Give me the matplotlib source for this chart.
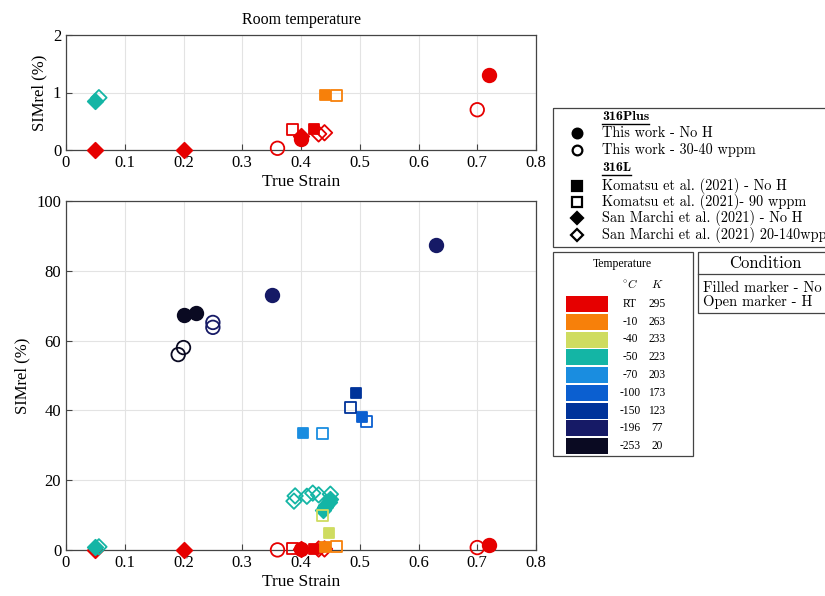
import matplotlib
matplotlib.use('Agg')
import matplotlib.pyplot as plt
from matplotlib.patches import Rectangle

plt.rcParams['font.family'] = ['Liberation Serif', 'DejaVu Serif']
plt.rcParams['mathtext.fontset'] = 'cm'

# temperature classes
temp_c = ['RT', '-10', '-40', '-50', '-70', '-100', '-150', '-196', '-253']
temp_k = ['295', '263', '233', '223', '203', '173', '123', '77', '20']
temp_colors = ['#e60000', '#f7800a', '#cfdc60', '#14b5a5', '#1a8de0',
               '#0b5fd0', '#00339a', '#161a66', '#0a0a22']
col = dict(zip(temp_c, temp_colors))

# 316Plus, this work
plus_noh_x = [0.40, 0.72, 0.20, 0.221, 0.35, 0.63]
plus_noh_y = [0.20, 1.30, 67.3, 68.0, 73.1, 87.5]
plus_noh_t = ['RT', 'RT', '-253', '-253', '-196', '-196']

plus_h_x = [0.36, 0.70, 0.191, 0.20, 0.25, 0.25]
plus_h_y = [0.03, 0.70, 56.0, 58.0, 65.2, 63.8]
plus_h_t = ['RT', 'RT', '-253', '-253', '-196', '-196']

# 316L, Komatsu et al. (2021)
kom_noh_x = [0.422, 0.44, 0.447, 0.403, 0.503, 0.494]
kom_noh_y = [0.36, 0.95, 5.0, 33.5, 38.2, 45.0]
kom_noh_t = ['RT', '-10', '-40', '-70', '-100', '-150']

kom_h_x = [0.386, 0.46, 0.437, 0.437, 0.511, 0.485]
kom_h_y = [0.36, 0.95, 9.8, 33.5, 36.9, 40.9]
kom_h_t = ['RT', '-10', '-40', '-70', '-100', '-150']

# 316L, San Marchi et al. (2021)
sm_noh_x = [0.05, 0.20, 0.40, 0.05, 0.437, 0.44, 0.443, 0.447, 0.45]
sm_noh_y = [0.0, 0.0, 0.25, 0.85, 11.5, 12.3, 13.0, 13.8, 14.5]
sm_noh_t = ['RT', 'RT', 'RT', '-50', '-50', '-50', '-50', '-50', '-50']

sm_h_x = [0.43, 0.44, 0.056, 0.388, 0.39, 0.41, 0.42, 0.43, 0.45]
sm_h_y = [0.28, 0.30, 0.91, 14.0, 15.5, 15.4, 16.3, 15.8, 16.0]
sm_h_t = ['RT', 'RT', '-50', '-50', '-50', '-50', '-50', '-50', '-50']

series = [
    (sm_noh_x, sm_noh_y, sm_noh_t, 'D', True, 62),
    (sm_h_x, sm_h_y, sm_h_t, 'D', False, 62),
    (kom_noh_x, kom_noh_y, kom_noh_t, 's', True, 62),
    (kom_h_x, kom_h_y, kom_h_t, 's', False, 62),
    (plus_noh_x, plus_noh_y, plus_noh_t, 'o', True, 95),
    (plus_h_x, plus_h_y, plus_h_t, 'o', False, 95),
]


def draw(ax, ymax):
    for x, y, t, m, filled, s in series:
        for xi, yi, ti in zip(x, y, t):
            if yi > ymax:
                continue
            c = col[ti]
            ax.scatter(xi, yi, s=s, marker=m, facecolors=c if filled else 'none',
                       edgecolors=c, linewidths=1.3, clip_on=False, zorder=3)


def style(ax):
    ax.set_xlim(0, 0.8)
    ax.set_xticks([0, 0.1, 0.2, 0.3, 0.4, 0.5, 0.6, 0.7, 0.8])
    ax.set_xticklabels(['0', '0.1', '0.2', '0.3', '0.4', '0.5', '0.6', '0.7', '0.8'])
    ax.grid(True, color='#e3e3e3', linewidth=0.8)
    ax.set_axisbelow(True)
    ax.tick_params(direction='in', labelsize=12, color='#444444', length=4)
    for sp in ax.spines.values():
        sp.set_color('#444444')
        sp.set_linewidth(0.9)
    ax.set_xlabel('True Strain', fontsize=12.5, labelpad=2)
    ax.set_ylabel('SIMrel (%)', fontsize=12, labelpad=4)


fig = plt.figure(figsize=(8.25, 5.96), dpi=100)

ax1 = fig.add_axes([66/825, 1-150/596, 470/825, 115/596])
draw(ax1, 2)
style(ax1)
ax1.set_ylim(0, 2)
ax1.set_yticks([0, 1, 2])
ax1.set_title('Room temperature', fontsize=11.5, pad=8)

ax2 = fig.add_axes([66/825, 1-550/596, 470/825, 349/596])
draw(ax2, 100)
style(ax2)
ax2.set_ylim(0, 100)
ax2.set_yticks([0, 20, 40, 60, 80, 100])

# overlay in pixel units for the legend boxes
ov = fig.add_axes([0, 0, 1, 1])
ov.set_xlim(0, 825)
ov.set_ylim(596, 0)
ov.axis('off')

lf = ['cmr10', 'DejaVu Serif']
ov.add_patch(Rectangle((553, 108), 320, 139, fill=False, ec='#444444', lw=0.9))
rows = [
    (117, None, '316Plus'),
    (133, ('o', True), 'This work - No H'),
    (150, ('o', False), 'This work - 30-40 wppm'),
    (168, None, '316L'),
    (186, ('s', True), 'Komatsu et al. (2021) - No H'),
    (202, ('s', False), 'Komatsu et al. (2021)- 90 wppm'),
    (218, ('D', True), 'San Marchi et al. (2021) - No H'),
    (235, ('D', False), 'San Marchi et al. (2021) 20-140wppm'),
]
headers = []
for yy, mk, txt in rows:
    if mk is None:
        t = ov.text(602, yy, txt, fontsize=10, family=['cmb10', 'DejaVu Serif'],
                    va='center', ha='left')
        headers.append((t, yy))
    else:
        m, filled = mk
        ov.plot(577, yy, marker=m, ms=7 if m != 'D' else 6.5, color='black',
                mfc='black' if filled else 'white', mew=1.6, ls='none')
        ov.text(602, yy, txt, fontsize=10.3, family=lf, va='center', ha='left')

fig.canvas.draw()
r = fig.canvas.get_renderer()
for t, yy in headers:
    bb = t.get_window_extent(r)
    ov.plot([602, 602 + bb.width], [yy + 6.5, yy + 6.5], color='black', lw=1.0)

# temperature key
ov.add_patch(Rectangle((553, 252), 140, 204, fill=False, ec='#444444', lw=0.9))
ov.text(622, 264, 'Temperature', fontsize=8.5, ha='center', va='center')
ov.text(630, 285, r'$^{\circ}C$', fontsize=8.5, ha='center', va='center')
ov.text(657, 285, r'$K$', fontsize=8.5, ha='center', va='center')
for i, (tc, tk) in enumerate(zip(temp_c, temp_k)):
    yc = 304 + i * 17.75
    ov.add_patch(Rectangle((566, yc - 8), 42, 16, color=col[tc], lw=0))
    ov.text(630, yc, tc, fontsize=8.3, ha='center', va='center')
    ov.text(657, yc, tk, fontsize=8.3, ha='center', va='center')

# condition box
ov.add_patch(Rectangle((698, 252), 200, 61, fill=False, ec='#444444', lw=0.9))
ov.plot([698, 825], [274, 274], color='#444444', lw=0.9)
ov.text(765, 263, 'Condition', fontsize=12, family=lf, ha='center', va='center')
ov.text(703, 288, 'Filled marker - No H', fontsize=10.5, family=lf, ha='left', va='center')
ov.text(703, 302, 'Open marker - H', fontsize=10.5, family=lf, ha='left', va='center')

fig.savefig('out.png', dpi=100)
